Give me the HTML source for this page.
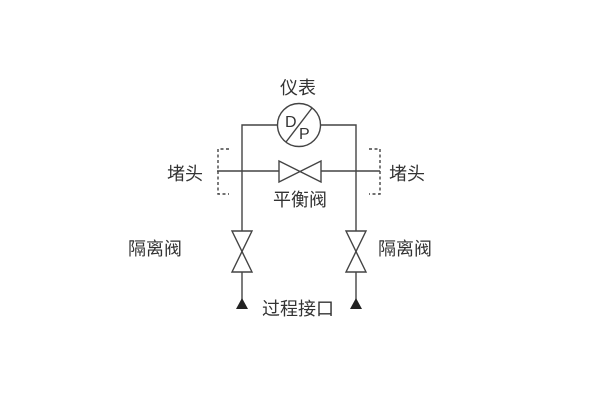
<!DOCTYPE html>
<html><head><meta charset="utf-8"><style>
html,body{margin:0;padding:0;background:#fff;width:600px;height:400px;overflow:hidden}
svg text{font-family:"Liberation Sans","Noto Sans CJK SC",sans-serif;fill:#333}
</style></head><body>
<svg width="600" height="400" viewBox="0 0 600 400" xmlns="http://www.w3.org/2000/svg">
<g stroke="#444" stroke-width="1.4" fill="none">
<path d="M242 300 V125 H277.5 M320.5 125 H356 V300"/>
<circle cx="299" cy="125" r="21.5" fill="#fff"/>
<line x1="312" y1="108" x2="286" y2="142"/>
<path d="M217 171 H279 M321 171 H380"/>
<path d="M279 161 L321 182 V161 L279 182 Z" fill="#fff"/>
<path d="M232 231 H252 L232 272 H252 Z" fill="#fff"/>
<path d="M346 231 H366 L346 272 H366 Z" fill="#fff"/>
<path d="M229 149 H218 V194 H229 M369 149 H380 V194 H369" stroke-dasharray="3,2.5"/>
</g>
<path d="M236 309 L242 298 L248 309 Z M350 309 L356 298 L362 309 Z" fill="#222"/>
<text x="285" y="127" style="font-size:16px">D</text>
<text x="299" y="139" style="font-size:16px">P</text>
<g font-size="18">
<text x="298" y="94" text-anchor="middle">仪表</text>
<text x="167" y="180">堵头</text>
<text x="389" y="180">堵头</text>
<text x="300" y="206" text-anchor="middle">平衡阀</text>
<text x="128" y="255">隔离阀</text>
<text x="378" y="255">隔离阀</text>
<text x="298" y="315" text-anchor="middle">过程接口</text>
</g>
</svg>
</body></html>
